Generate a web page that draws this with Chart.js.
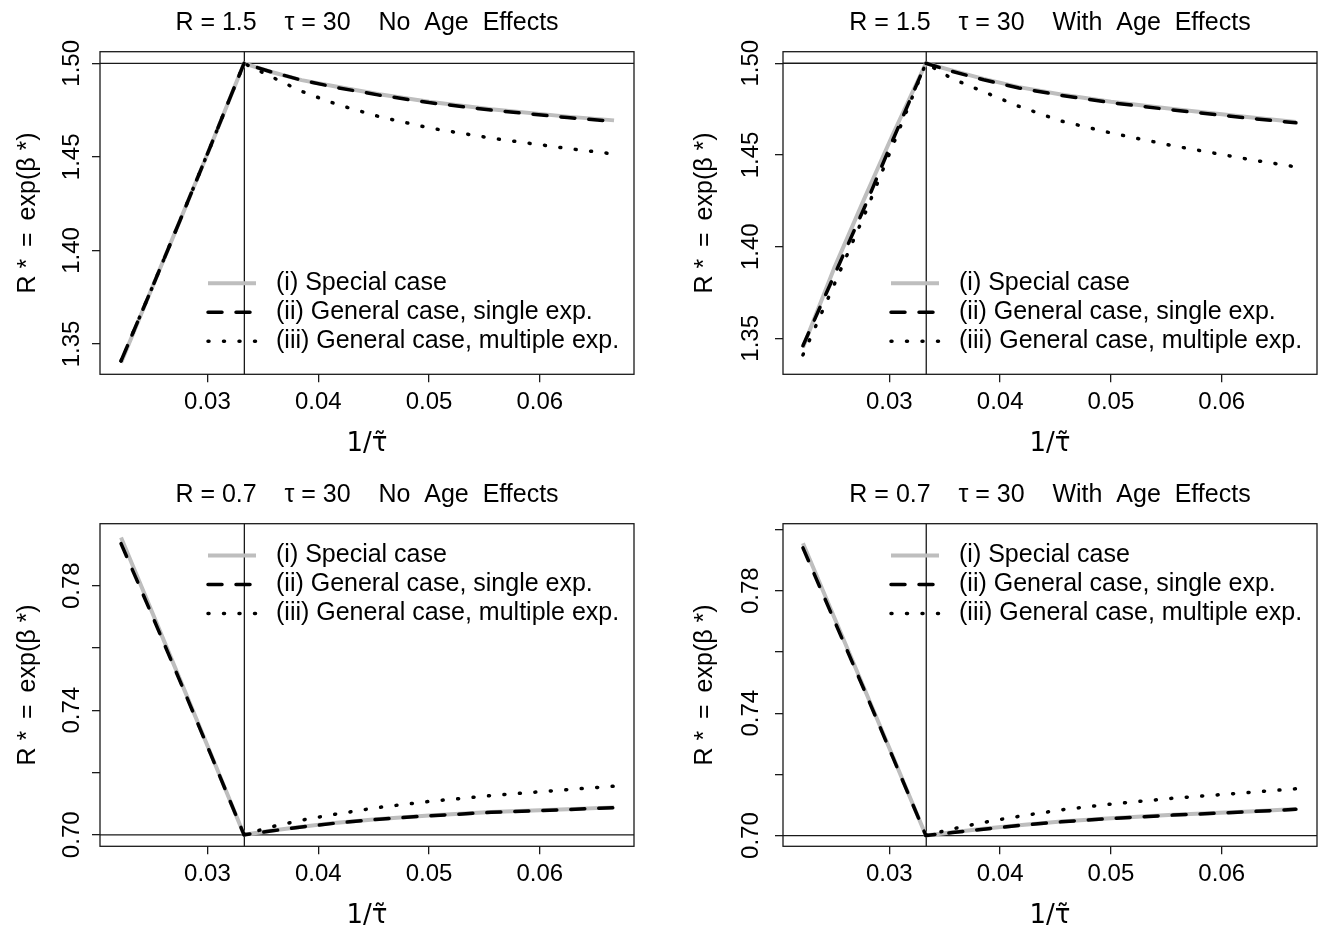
<!DOCTYPE html>
<html>
<head>
<meta charset="utf-8">
<title>R* against 1/tau</title>
<script src="https://cdn.jsdelivr.net/npm/chart.js@4.4.1/dist/chart.umd.min.js"></script>
<style>
  html, body { margin: 0; padding: 0; background: #fff; }
  #wrap { position: relative; width: 1321px; height: 927px; overflow: hidden; background: #fff; }
  #wrap canvas { position: absolute; }
</style>
</head>
<body>
<div id="wrap">
  <canvas id="c-tl" width="660" height="455" style="left:0;top:0"></canvas>
  <canvas id="c-tr" width="661" height="455" style="left:660px;top:0"></canvas>
  <canvas id="c-bl" width="660" height="455" style="left:0;top:472px"></canvas>
  <canvas id="c-br" width="661" height="455" style="left:660px;top:472px"></canvas>
</div>
<script>
// x = 1/tau~
const invTau = [0.0222, 0.0250, 0.0278, 0.0303, 0.0333, 0.0357, 0.0385, 0.0417, 0.0455, 0.0500, 0.0556, 0.0625, 0.0667];

// R = 1.5, no age effects
const special15 = [1.340, 1.380, 1.420, 1.456, 1.500, 1.4955, 1.491, 1.4875, 1.4835, 1.4795, 1.4755, 1.4715, 1.4695];
const single15  = [1.341, 1.380, 1.420, 1.456, 1.500, 1.4955, 1.491, 1.487, 1.483, 1.479, 1.475, 1.471, 1.469];
const multi15   = [1.341, 1.380, 1.420, 1.456, 1.500, 1.493, 1.485, 1.478, 1.4715, 1.4655, 1.460, 1.4545, 1.4515];
// R = 1.5, with age effects
const special15a = [1.345, 1.388, 1.427, 1.461, 1.500, 1.496, 1.4915, 1.487, 1.483, 1.479, 1.475, 1.4705, 1.468];
const single15a  = [1.346, 1.384, 1.422, 1.458, 1.500, 1.4955, 1.491, 1.4865, 1.4825, 1.4785, 1.4745, 1.470, 1.4675];
const multi15a   = [1.341, 1.379, 1.418, 1.455, 1.500, 1.4915, 1.4845, 1.4765, 1.4685, 1.462, 1.455, 1.4475, 1.4435];
// R = 0.7, no age effects
const special07 = [0.7955, 0.7715, 0.7475, 0.7260, 0.700, 0.7013, 0.7026, 0.7039, 0.7051, 0.7062, 0.7073, 0.7082, 0.7088];
const single07  = [0.7935, 0.7705, 0.7470, 0.7258, 0.700, 0.7012, 0.7025, 0.7038, 0.7050, 0.7061, 0.7072, 0.7081, 0.7087];
const multi07   = [null, null, null, null, 0.700, 0.7025, 0.7047, 0.7067, 0.7088, 0.7107, 0.7126, 0.7145, 0.7156];
// R = 0.7, with age effects
const special07a = [0.7955, 0.7715, 0.7475, 0.7260, 0.700, 0.7011, 0.7022, 0.7034, 0.7046, 0.7057, 0.7068, 0.7079, 0.7087];
const single07a  = [0.7940, 0.7705, 0.7470, 0.7257, 0.700, 0.7010, 0.7021, 0.7033, 0.7045, 0.7056, 0.7067, 0.7078, 0.7086];
const multi07a   = [null, null, null, null, 0.700, 0.7022, 0.7043, 0.7063, 0.7084, 0.7103, 0.7122, 0.7141, 0.7153];

const seriesLabels = ['(i) Special case', '(ii) General case, single exp.', '(iii) General case, multiple exp.'];
const xTicks = [0.03, 0.04, 0.05, 0.06];
const yTicksHigh = [1.35, 1.40, 1.45, 1.50];
const yTicksLow = [0.70, 0.72, 0.74, 0.76, 0.78];
const yTicksLowR = [0.70, 0.72, 0.74, 0.76, 0.78, 0.80];
const yLabelsLow = [0.70, 0.74, 0.78];
const tauInv = 0.03333;

const FONT = '"Liberation Sans", Arial, Helvetica, sans-serif';
Chart.defaults.font.family = FONT;
Chart.defaults.font.size = 24;
Chart.defaults.color = '#000';

const lineStyles = [
  { borderColor: '#bebebe', borderWidth: 4, borderDash: [], borderCapStyle: 'butt', order: 3 },
  { borderColor: '#000', borderWidth: 3.5, borderDash: [14, 14], borderCapStyle: 'round', order: 2 },
  { borderColor: '#000', borderWidth: 3.5, borderDash: [1, 14.5], borderCapStyle: 'round', order: 1 }
];

// box, reference lines and R-style legend
const panelDecor = {
  id: 'panelDecor',
  beforeDatasetsDraw(chart, args, o) {
    const { ctx, chartArea: a, scales } = chart;
    const yy = scales.y.getPixelForValue(o.hLine);
    const xx = scales.x.getPixelForValue(o.vLine);
    ctx.save();
    ctx.strokeStyle = '#1a1a1a';
    ctx.lineWidth = 1.3;
    ctx.beginPath();
    ctx.moveTo(a.left, yy); ctx.lineTo(a.right, yy);
    ctx.moveTo(xx, a.top); ctx.lineTo(xx, a.bottom);
    ctx.stroke();
    ctx.strokeRect(a.left, a.top, a.right - a.left, a.bottom - a.top);
    ctx.restore();
  },
  afterDatasetsDraw(chart, args, o) {
    const { ctx, chartArea: a } = chart;
    ctx.save();
    ctx.font = '25px ' + FONT;
    ctx.textBaseline = 'middle';
    ctx.fillStyle = '#000';
    chart.data.datasets.forEach((ds, i) => {
      const y = a.top + o.legendTop + i * 29;
      ctx.setLineDash(ds.borderDash || []);
      ctx.lineCap = ds.borderCapStyle || 'butt';
      ctx.lineWidth = ds.borderWidth;
      ctx.strokeStyle = ds.borderColor;
      ctx.beginPath();
      ctx.moveTo(a.right - 426, y);
      ctx.lineTo(a.right - 378, y);
      ctx.stroke();
      ctx.setLineDash([]);
      ctx.fillText(ds.label, a.right - 358, y);
    });
    ctx.restore();
  }
};

const panels = [
  { id: 'c-tl', w: 660, boxL: 100, boxR: 634, xMin: 0.0203, xMax: 0.0685, yMin: 1.3338, yMax: 1.5062,
    yTicks: yTicksHigh, yLabeled: yTicksHigh, hLine: 1.5, yTickPad: -3.4, yTitlePad: 3.3, legendTop: 231.6,
    title: 'R = 1.5    \u03C4 = 30    No  Age  Effects', series: [special15, single15, multi15] },
  { id: 'c-tr', w: 661, boxL: 123, boxR: 657, xMin: 0.0204, xMax: 0.0686, yMin: 1.3304, yMax: 1.5063,
    yTicks: yTicksHigh, yLabeled: yTicksHigh, hLine: 1.5, yTickPad: -0.1, yTitlePad: -3, legendTop: 231.6,
    title: 'R = 1.5    \u03C4 = 30    With  Age  Effects', series: [special15a, single15a, multi15a] },
  { id: 'c-bl', w: 660, boxL: 100, boxR: 634, xMin: 0.0203, xMax: 0.0685, yMin: 0.6963, yMax: 0.7999,
    yTicks: yTicksLow, yLabeled: yLabelsLow, hLine: 0.7, yTickPad: -3.4, yTitlePad: 3.3, legendTop: 31.7,
    title: 'R = 0.7    \u03C4 = 30    No  Age  Effects', series: [special07, single07, multi07] },
  { id: 'c-br', w: 661, boxL: 123, boxR: 657, xMin: 0.0204, xMax: 0.0686, yMin: 0.6965, yMax: 0.8019,
    yTicks: yTicksLowR, yLabeled: yLabelsLow, hLine: 0.7, yTickPad: -0.1, yTitlePad: -3, legendTop: 31.7,
    title: 'R = 0.7    \u03C4 = 30    With  Age  Effects', series: [special07a, single07a, multi07a] }
];

const axisGrid = { drawOnChartArea: false, drawTicks: true, tickLength: 8, color: '#1a1a1a', lineWidth: 1.3 };

panels.forEach(p => {
  const datasets = seriesLabels.map((label, k) => Object.assign({
    label,
    data: invTau.map((x, i) => ({ x, y: p.series[k][i] })),
    pointRadius: 0,
    tension: 0,
    fill: false,
    spanGaps: false,
    borderJoinStyle: 'round'
  }, lineStyles[k]));

  new Chart(document.getElementById(p.id), {
    type: 'line',
    data: { datasets },
    plugins: [panelDecor],
    options: {
      responsive: false,
      animation: false,
      events: [],
      layout: { padding: { left: p.boxL - 90, right: p.w - p.boxR, top: 0, bottom: 0 } },
      plugins: {
        legend: { display: false },
        tooltip: { enabled: false },
        title: {
          display: true, text: p.title, fullSize: false, color: '#000',
          font: { size: 25, weight: 'normal' }, padding: { top: 8.4, bottom: 13.3 }
        },
        panelDecor: { hLine: p.hLine, vLine: tauInv, legendTop: p.legendTop }
      },
      scales: {
        x: {
          type: 'linear', min: p.xMin, max: p.xMax,
          afterBuildTicks: s => { s.ticks = xTicks.map(v => ({ value: v })); },
          afterFit: s => { s.height = 80.7; },
          ticks: { autoSkip: false, maxRotation: 0, padding: 6, color: '#000', callback: v => v.toFixed(2) },
          grid: axisGrid,
          border: { display: false },
          title: {
            display: true, text: '1/\u03C4\u0303', color: '#000',
            font: { family: '"DejaVu Sans", sans-serif', size: 26 }, padding: { top: 0, bottom: -5 }
          }
        },
        y: {
          type: 'linear', min: p.yMin, max: p.yMax,
          afterBuildTicks: s => { s.ticks = p.yTicks.map(v => ({ value: v })); },
          afterFit: s => { s.width = 90; },
          ticks: {
            autoSkip: false, minRotation: 90, maxRotation: 90, crossAlign: 'center',
            padding: p.yTickPad, color: '#000',
            callback: v => p.yLabeled.includes(v) ? v.toFixed(2) : ''
          },
          grid: axisGrid,
          border: { display: false },
          title: {
            display: true, text: 'R * \u2009=\u2009 exp(\u03B2 *)', color: '#000',
            font: { size: 25 }, padding: { top: p.yTitlePad, bottom: 0 }
          }
        }
      }
    }
  });
});
</script>
</body>
</html>
